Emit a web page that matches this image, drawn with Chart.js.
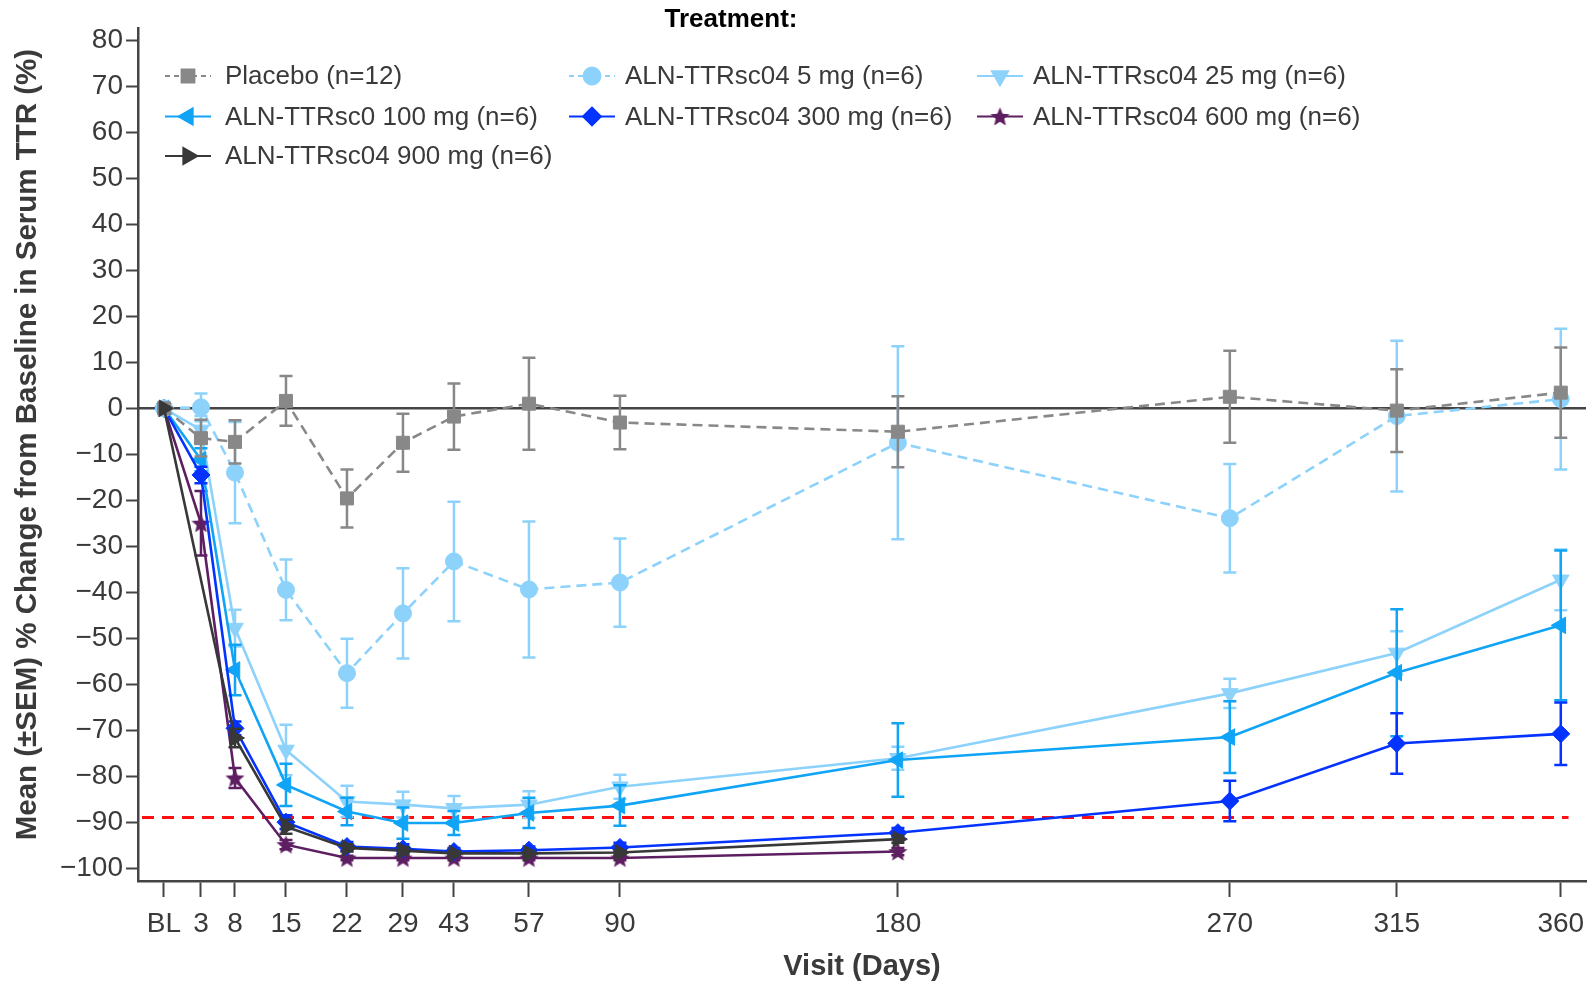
<!DOCTYPE html>
<html>
<head>
<meta charset="utf-8">
<title>Serum TTR change from baseline</title>
<script src="https://cdn.jsdelivr.net/npm/chart.js"></script>
<style>
  html, body { margin: 0; padding: 0; background: #fff; }
  #wrap { width: 1588px; height: 984px; }
</style>
</head>
<body>
<div id="wrap"><canvas id="ttrChart" width="1588" height="984"></canvas></div>
<script>
// Visits on the x axis
const visitLabels = ['BL', '3', '8', '15', '22', '29', '43', '57', '90', '180', '270', '315', '360'];
// Where each visit sits on the (stretched, non-linear) x axis of the original figure
const visitAxisPos = [0, 9.53, 18.3, 31.44, 47.16, 61.59, 74.73, 94.06, 117.51, 189.15, 274.7, 317.73, 360];
const yTickValues = [80, 70, 60, 50, 40, 30, 20, 10, 0, -10, -20, -30, -40, -50, -60, -70, -80, -90, -100];

// Mean % change from baseline and SEM, one value per visit (null = no visit)
const placeboMean = [0, -6.5, -7.3, 1.6, -19.6, -7.5, -1.8, 1.0, -3.1, -5.1, 2.5, -0.5, 3.4];
const placeboSem  = [0, 4.0, 4.7, 5.4, 6.3, 6.3, 7.2, 10.0, 5.8, 7.7, 10.0, 9.0, 9.8];
const mg5Mean   = [0, 0.2, -14.0, -39.5, -57.6, -44.6, -33.3, -39.4, -37.9, -7.5, -23.9, -1.7, 2.0];
const mg5Sem    = [0, 3.0, 11.0, 6.6, 7.5, 9.8, 13.0, 14.8, 9.6, 21.0, 11.8, 16.4, 15.3];
const mg25Mean  = [0, -4.7, -47.8, -74.3, -85.5, -86.2, -87.0, -86.2, -82.3, -76.1, -62.0, -53.2, -37.3];
const mg25Sem   = [0, 3.0, 4.0, 5.5, 3.4, 2.8, 2.7, 2.9, 2.6, 2.5, 3.2, 4.7, 6.6];
const mg100Mean = [0, -11.2, -56.9, -81.9, -87.7, -90.2, -90.2, -88.0, -86.4, -76.5, -71.5, -57.5, -47.2];
const mg100Sem  = [0, 2.5, 5.5, 4.6, 3.0, 3.4, 2.6, 3.3, 4.4, 8.0, 7.8, 13.8, 16.3];
const mg300Mean = [0, -14.5, -69.6, -90.0, -95.3, -95.8, -96.4, -96.1, -95.5, -92.3, -85.4, -72.9, -70.8];
const mg300Sem  = [0, 1.8, 1.5, 1.5, 1.0, 1.0, 0.8, 0.8, 1.0, 1.0, 4.4, 6.6, 6.8];
const mg600Mean = [0, -25.0, -80.4, -94.9, -97.8, -97.8, -97.8, -97.8, -97.8, -96.4, null, null, null];
const mg600Sem  = [0, 7.0, 2.2, 1.0, 0.5, 0.5, 0.5, 0.5, 0.5, 0.8, null, null, null];
const mg900Mean = [0, null, -71.7, -91.0, -95.6, -96.2, -96.8, -96.8, -96.6, -93.7, null, null, null];
const mg900Sem  = [0, null, 2.0, 1.5, 0.8, 0.8, 0.5, 0.5, 0.5, 0.8, null, null, null];

const referenceLine = -89;

const FONT = '"Liberation Sans", Arial, sans-serif';
const TEXT = '#3a3a3a';
const AXIS = '#444444';
const Y_TITLE = 'Mean (\u00b1SEM) % Change from Baseline in Serum TTR (%)';

// Filled five point star used as marker for the 600 mg group
function makeStar(color, size) {
    const c = document.createElement('canvas');
    c.width = size;
    c.height = size;
    const g = c.getContext('2d');
    const cx = size / 2, cy = size / 2 + 0.8;
    const R = size / 2 - 0.5, r = R * 0.45;
    g.beginPath();
    for (let i = 0; i < 10; i++) {
        const a = -Math.PI / 2 + i * Math.PI / 5;
        const rr = i % 2 ? r : R;
        g.lineTo(cx + rr * Math.cos(a), cy + rr * Math.sin(a));
    }
    g.closePath();
    g.fillStyle = color;
    g.fill();
    return c;
}

const series = [
    { label: 'Placebo (n=12)', mean: placeboMean, sem: placeboSem, color: '#888888', dash: [10, 6], style: 'rect', rot: 0, r: 9.2, order: 2 },
    { label: 'ALN-TTRsc04 5 mg (n=6)', mean: mg5Mean, sem: mg5Sem, color: '#8dd2fb', dash: [10, 6], style: 'circle', rot: 0, r: 8.5, order: 3 },
    { label: 'ALN-TTRsc04 25 mg (n=6)', mean: mg25Mean, sem: mg25Sem, color: '#8dd2fb', dash: [], style: 'triangle', rot: 180, r: 9.5, order: 6 },
    { label: 'ALN-TTRsc0 100 mg (n=6)', mean: mg100Mean, sem: mg100Sem, color: '#10a4f6', dash: [], style: 'triangle', rot: -90, r: 9.5, order: 5 },
    { label: 'ALN-TTRsc04 300 mg (n=6)', mean: mg300Mean, sem: mg300Sem, color: '#0433ff', dash: [], style: 'rectRot', rot: 0, r: 9, order: 4 },
    { label: 'ALN-TTRsc04 600 mg (n=6)', mean: mg600Mean, sem: mg600Sem, color: '#5e1f62', dash: [], style: makeStar('#5e1f62', 21), rot: 0, r: 9, order: 7 },
    { label: 'ALN-TTRsc04 900 mg (n=6)', mean: mg900Mean, sem: mg900Sem, color: '#383838', dash: [], style: 'triangle', rot: 90, r: 9.5, order: 1 }
];

const datasets = series.map(s => ({
    label: s.label,
    data: s.mean.map((v, i) => ({ x: visitAxisPos[i], y: v })),
    sem: s.sem,
    borderColor: s.color,
    backgroundColor: s.color,
    borderWidth: 2.6,
    borderDash: s.dash,
    pointStyle: s.style,
    pointRotation: s.rot,
    pointRadius: s.r,
    pointBorderWidth: 1,
    pointBackgroundColor: s.color,
    pointBorderColor: s.color,
    spanGaps: true,
    tension: 0,
    fill: false,
    clip: 12,
    order: s.order
}));

// Zero line and the red dashed reference line
const referencePlugin = {
    id: 'referenceLines',
    beforeDatasetsDraw(chart) {
        const { ctx, chartArea, scales } = chart;
        ctx.save();
        const y0 = scales.y.getPixelForValue(0);
        ctx.strokeStyle = AXIS;
        ctx.lineWidth = 2.5;
        ctx.beginPath();
        ctx.moveTo(chartArea.left, y0);
        ctx.lineTo(chartArea.right, y0);
        ctx.stroke();

        const yRef = scales.y.getPixelForValue(referenceLine);
        ctx.strokeStyle = '#ff1010';
        ctx.lineWidth = 3;
        ctx.setLineDash([12, 8]);
        ctx.beginPath();
        ctx.moveTo(chartArea.left + 4, yRef);
        ctx.lineTo(scales.x.getPixelForValue(362), yRef);
        ctx.stroke();
        ctx.restore();
    }
};

// SEM error bars, drawn under each dataset's own line
const errorBarPlugin = {
    id: 'errorBars',
    beforeDatasetDraw(chart, args) {
        const ds = chart.data.datasets[args.index];
        if (!ds.sem) return;
        const { ctx, scales } = chart;
        ctx.save();
        ctx.strokeStyle = ds.borderColor;
        ctx.lineWidth = 2.5;
        ds.data.forEach((p, i) => {
            const e = ds.sem[i];
            if (p.y === null || !e) return;
            const x = scales.x.getPixelForValue(p.x);
            const yTop = scales.y.getPixelForValue(p.y + e);
            const yBot = scales.y.getPixelForValue(p.y - e);
            ctx.beginPath();
            ctx.moveTo(x, yTop);
            ctx.lineTo(x, yBot);
            ctx.moveTo(x - 6.5, yTop);
            ctx.lineTo(x + 6.5, yTop);
            ctx.moveTo(x - 6.5, yBot);
            ctx.lineTo(x + 6.5, yBot);
            ctx.stroke();
        });
        ctx.restore();
    }
};

// Legend in three columns inside the plot, as in the figure
const legendColX = [165, 569, 977];
const legendTextGap = [60, 56, 56];
const legendRowY = [76, 116.5, 156];

const legendPlugin = {
    id: 'treatmentLegend',
    afterDraw(chart) {
        const ctx = chart.ctx;
        ctx.save();
        ctx.font = 'bold 26px ' + FONT;
        ctx.fillStyle = '#000';
        ctx.textAlign = 'center';
        ctx.textBaseline = 'middle';
        ctx.fillText('Treatment:', 731, 20);

        // y axis title, placed a little above the axis centre like the original
        ctx.save();
        ctx.translate(27.5, 444.6);
        ctx.rotate(-Math.PI / 2);
        ctx.font = 'bold 29.5px ' + FONT;
        ctx.fillStyle = TEXT;
        ctx.fillText(Y_TITLE, 0, 0);
        ctx.restore();

        ctx.font = '26px ' + FONT;
        ctx.textAlign = 'left';
        series.forEach((s, i) => {
            const col = i % 3;
            const x0 = legendColX[col];
            const y = legendRowY[Math.floor(i / 3)];
            ctx.strokeStyle = s.color;
            ctx.lineWidth = 1.8;
            ctx.setLineDash(s.dash.length ? [5, 4] : []);
            ctx.beginPath();
            ctx.moveTo(x0, y);
            ctx.lineTo(x0 + 46, y);
            ctx.stroke();
            ctx.setLineDash([]);
            ctx.fillStyle = s.color;
            Chart.helpers.drawPoint(ctx, {
                pointStyle: s.style,
                rotation: s.rot,
                radius: s.r,
                borderWidth: 1
            }, x0 + 23, y);
            ctx.fillStyle = TEXT;
            ctx.fillText(s.label, x0 + legendTextGap[col], y + 1);
        });
        ctx.restore();
    }
};

const minus = v => (v < 0 ? '\u2212' + Math.abs(v) : String(v));

new Chart(document.getElementById('ttrChart'), {
    type: 'line',
    data: { datasets },
    plugins: [referencePlugin, errorBarPlugin, legendPlugin],
    options: {
        responsive: false,
        animation: false,
        layout: { autoPadding: false, padding: { top: 28, right: 2, bottom: 0, left: 0 } },
        plugins: {
            legend: { display: false },
            tooltip: { enabled: false }
        },
        scales: {
            x: {
                type: 'linear',
                min: -6.7,
                max: 366.5,
                afterBuildTicks: scale => {
                    scale.ticks = visitAxisPos.map(v => ({ value: v }));
                },
                afterFit: scale => {
                    scale.height = 103;
                    // the end labels fit inside the axis, no extra side padding
                    scale.paddingLeft = 0;
                    scale.paddingRight = 0;
                },
                ticks: {
                    autoSkip: false,
                    maxRotation: 0,
                    padding: 10,
                    color: TEXT,
                    font: { family: FONT, size: 28 },
                    callback: (value, index) => visitLabels[index]
                },
                grid: { drawOnChartArea: false, drawTicks: true, tickLength: 16, tickWidth: 2, tickColor: AXIS },
                border: { color: AXIS, width: 2.5 },
                title: {
                    display: true,
                    text: 'Visit (Days)',
                    color: TEXT,
                    font: { family: FONT, size: 29, weight: 'bold' },
                    padding: { top: 0, bottom: 0 }
                }
            },
            y: {
                min: -102.8,
                max: 82.7,
                afterBuildTicks: scale => {
                    scale.ticks = yTickValues.map(v => ({ value: v }));
                },
                afterFit: scale => { scale.width = 138; },
                ticks: {
                    padding: 3,
                    color: TEXT,
                    font: { family: FONT, size: 28 },
                    callback: value => minus(value)
                },
                grid: { drawOnChartArea: false, drawTicks: true, tickLength: 12, tickWidth: 2, tickColor: AXIS },
                border: { color: AXIS, width: 2.5 },
                title: { display: false }
            }
        }
    }
});
</script>
</body>
</html>
